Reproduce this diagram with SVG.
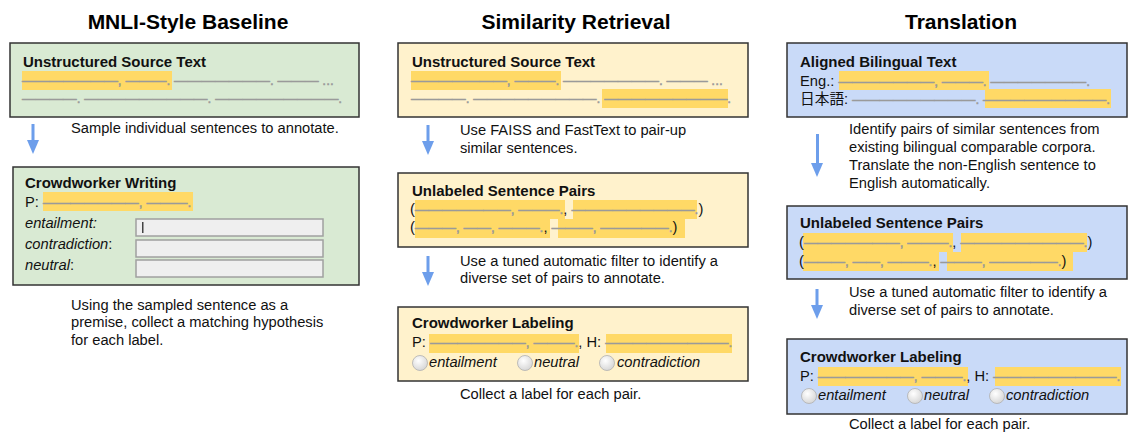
<svg xmlns="http://www.w3.org/2000/svg" width="1129" height="432" viewBox="0 0 1129 432">
<defs>
<style>
.t{font-family:"Liberation Sans",Arial,sans-serif;font-weight:bold;font-size:21px;text-anchor:middle;fill:#000}
.h{font-family:"Liberation Sans",Arial,sans-serif;font-weight:bold;font-size:15px;fill:#111}
.b{font-family:"Liberation Sans",Arial,sans-serif;font-size:14.7px;fill:#111}
.d{font-family:"Liberation Sans",Arial,sans-serif;font-size:13.7px;fill:#9a9a9a;stroke:#9a9a9a;stroke-width:0.5;font-weight:normal}
.i{font-style:italic}
.g{fill:#d9ead3;stroke:#333;stroke-width:1.5}
.y{fill:#fff2cc;stroke:#333;stroke-width:1.5}
.bl{fill:#c9daf8;stroke:#333;stroke-width:1.5}
.hl{fill:#ffd966}
.in{fill:#efefef;stroke:#a0a0a0;stroke-width:1.5}
.rad{fill:url(#rg);stroke:#b0b0b0;stroke-width:0.8}
.arr{fill:#6d9eeb}
</style>
<radialGradient id="rg" cx="0.4" cy="0.35" r="0.7">
<stop offset="0" stop-color="#ffffff"/>
<stop offset="1" stop-color="#d4d4d4"/>
</radialGradient>
<symbol id="arrow" overflow="visible">
<rect x="-1.5" y="0" width="3" height="17" class="arr"/>
<polygon points="-6,16 6,16 0,30" class="arr"/>
</symbol>
</defs>
<rect width="1129" height="432" fill="#fff"/>

<text class="t" x="188" y="29">MNLI-Style Baseline</text>
<text class="t" x="576" y="29">Similarity Retrieval</text>
<text class="t" x="961" y="29">Translation</text>

<!-- Panel 1 -->
<g id="p1-source">
<rect class="g" x="10" y="43" width="349" height="74"/>
<text class="h" x="23" y="67">Unstructured Source Text</text>
<rect class="hl" x="22" y="71" width="150" height="19"/>
<text class="d" x="22" y="85">———————, ———. ———————. ——— ...</text>
<text class="d" x="22" y="103">————. —————————. —————————.</text>
</g>
<g id="p1-writing">
<rect class="g" x="13" y="167" width="346" height="118"/>
<text class="h" x="25" y="188">Crowdworker Writing</text>
<rect class="hl" x="43" y="192" width="150" height="19"/>
<text class="b" x="25" y="207">P: <tspan class="d">———————, ———.</tspan></text>
<text class="b i" x="25" y="228">entailment:</text>
<text class="b" x="25" y="249"><tspan class="i">contradiction</tspan>:</text>
<text class="b" x="25" y="270"><tspan class="i">neutral</tspan>:</text>
<rect class="in" x="136" y="219" width="187" height="17"/>
<rect class="in" x="136" y="240" width="187" height="17"/>
<rect class="in" x="136" y="260" width="187" height="17"/>
<rect x="142" y="222" width="1.5" height="11" fill="#444"/>
</g>

<!-- Panel 2 -->
<g id="p2-source">
<rect class="y" x="398" y="43" width="350" height="74"/>
<text class="h" x="412" y="67">Unstructured Source Text</text>
<rect class="hl" x="411" y="71" width="150" height="19"/>
<rect class="hl" x="602" y="89" width="126" height="19"/>
<text class="d" x="411" y="85">———————, ———. ———————. ——— ...</text>
<text class="d" x="411" y="103">————. —————————. —————————.</text>
</g>
<g id="p2-pairs">
<rect class="y" x="398" y="173" width="350" height="74"/>
<text class="h" x="412" y="196">Unlabeled Sentence Pairs</text>
<rect class="hl" x="415" y="200" width="150" height="19"/>
<rect class="hl" x="573" y="200" width="124" height="19"/>
<rect class="hl" x="415" y="219" width="135" height="19"/>
<rect class="hl" x="558" y="219" width="127" height="19"/>
<text class="b" x="410" y="214">(<tspan class="d">———————, ———.</tspan>, <tspan class="d">—————————.</tspan>)</text>
<text class="b" x="410" y="232">(<tspan class="d">———, ——, ———.</tspan>, <tspan class="d">———, —————.</tspan>)</text>
</g>
<g id="p2-labeling">
<rect class="y" x="398" y="307" width="350" height="74"/>
<text class="h" x="412" y="328">Crowdworker Labeling</text>
<rect class="hl" x="429" y="334" width="150" height="19"/>
<rect class="hl" x="606" y="334" width="126" height="19"/>
<text class="b" x="412" y="347">P: <tspan class="d">———————, ———.</tspan>, H: <tspan class="d">—————————.</tspan></text>
<circle class="rad" cx="420" cy="363" r="7.5"/>
<text class="b i" x="429" y="367">entailment</text>
<circle class="rad" cx="525" cy="363" r="7.5"/>
<text class="b i" x="534" y="367">neutral</text>
<circle class="rad" cx="607" cy="363" r="7.5"/>
<text class="b i" x="617" y="367">contradiction</text>
</g>

<!-- Panel 3 -->
<g id="p3-bilingual">
<rect class="bl" x="787" y="43" width="340" height="74"/>
<text class="h" x="800" y="67">Aligned Bilingual Text</text>
<rect class="hl" x="839" y="71" width="150" height="19"/>
<rect class="hl" x="985" y="89" width="126" height="19"/>
<text class="b" x="800" y="86">Eng.: <tspan class="d">———————, ———. ———————.</tspan></text>
<text class="b" x="800" y="104" style="font-family:'Liberation Sans','Noto Sans CJK JP',sans-serif">日本語: <tspan class="d">—————————. —————————.</tspan></text>
</g>
<g id="p3-pairs">
<rect class="bl" x="787" y="206" width="340" height="73"/>
<text class="h" x="800" y="228">Unlabeled Sentence Pairs</text>
<rect class="hl" x="803" y="233" width="150" height="19"/>
<rect class="hl" x="961" y="233" width="126" height="19"/>
<rect class="hl" x="803" y="252" width="136" height="19"/>
<rect class="hl" x="947" y="252" width="126" height="19"/>
<text class="b" x="799" y="247">(<tspan class="d">———————, ———.</tspan>, <tspan class="d">—————————.</tspan>)</text>
<text class="b" x="799" y="266">(<tspan class="d">———, ——, ———.</tspan>, <tspan class="d">———, —————.</tspan>)</text>
</g>
<g id="p3-labeling">
<rect class="bl" x="787" y="339" width="340" height="75"/>
<text class="h" x="800" y="362">Crowdworker Labeling</text>
<rect class="hl" x="818" y="367" width="150" height="19"/>
<rect class="hl" x="995" y="367" width="126" height="19"/>
<text class="b" x="800" y="381">P: <tspan class="d">———————, ———.</tspan>, H: <tspan class="d">—————————.</tspan></text>
<circle class="rad" cx="809" cy="396" r="7.5"/>
<text class="b i" x="818" y="400">entailment</text>
<circle class="rad" cx="915" cy="396" r="7.5"/>
<text class="b i" x="924" y="400">neutral</text>
<circle class="rad" cx="997" cy="396" r="7.5"/>
<text class="b i" x="1006" y="400">contradiction</text>
</g>

<!-- Connectors -->
<g id="connectors">
<use href="#arrow" x="33" y="124"/>
<use href="#arrow" x="428" y="125"/>
<use href="#arrow" x="428" y="256"/>
<rect x="816" y="134" width="3" height="30" class="arr"/>
<polygon points="811,163 823,163 817,177" class="arr"/>
<use href="#arrow" x="817" y="289"/>
</g>

<!-- Captions -->
<g id="captions">
<text class="b" x="71" y="133">Sample individual sentences to annotate.</text>
<text class="b" x="71" y="310">Using the sampled sentence as a</text>
<text class="b" x="71" y="327">premise, collect a matching hypothesis</text>
<text class="b" x="71" y="345">for each label.</text>
<text class="b" x="460" y="135">Use FAISS and FastText to pair-up</text>
<text class="b" x="460" y="153">similar sentences.</text>
<text class="b" x="460" y="266">Use a tuned automatic filter to identify a</text>
<text class="b" x="460" y="283">diverse set of pairs to annotate.</text>
<text class="b" x="460" y="399">Collect a label for each pair.</text>
<text class="b" x="849" y="134">Identify pairs of similar sentences from</text>
<text class="b" x="849" y="152">existing bilingual comparable corpora.</text>
<text class="b" x="849" y="170">Translate the non-English sentence to</text>
<text class="b" x="849" y="188">English automatically.</text>
<text class="b" x="849" y="297">Use a tuned automatic filter to identify a</text>
<text class="b" x="849" y="315">diverse set of pairs to annotate.</text>
<text class="b" x="849" y="429">Collect a label for each pair.</text>
</g>
</svg>
